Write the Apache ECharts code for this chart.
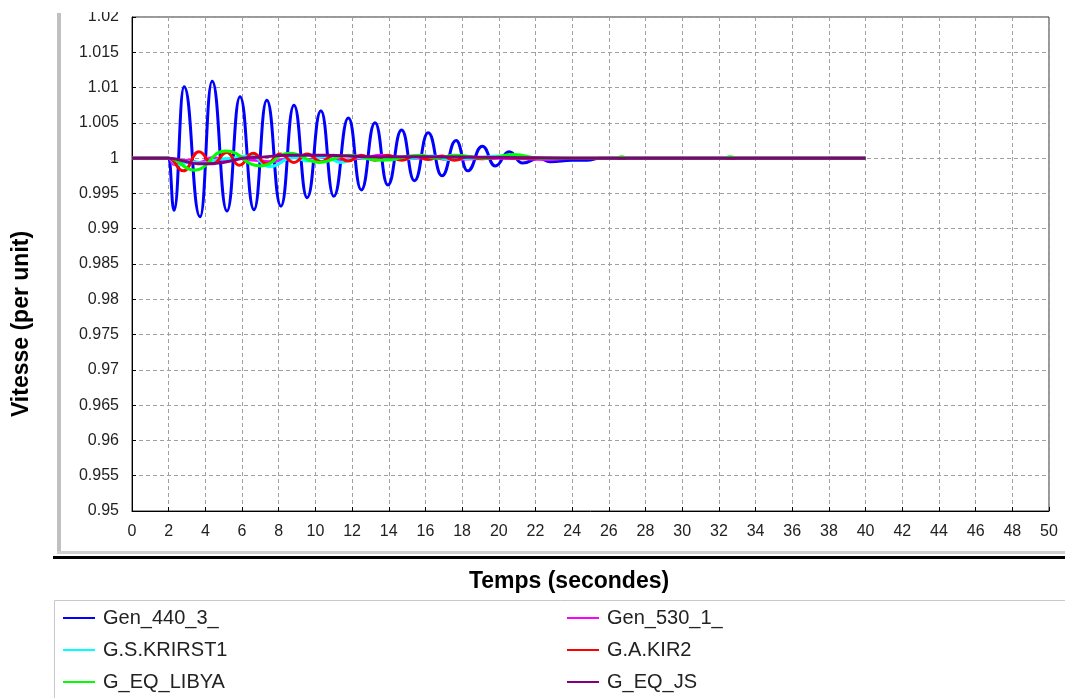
<!DOCTYPE html>
<html>
<head>
<meta charset="utf-8">
<script src="https://cdn.jsdelivr.net/npm/echarts@6/dist/echarts.min.js"></script>
<style>
html,body{margin:0;padding:0;background:#fff;}
#chart{width:1065px;height:698px;}
</style>
</head>
<body>
<div id="chart"></div>
<script>
// Series names (legend order)
var seriesNames = ['Gen_440_3_', 'Gen_530_1_', 'G.S.KRIRST1', 'G.A.KIR2', 'G_EQ_LIBYA', 'G_EQ_JS'];
var seriesColors = ['#0000ff', '#ff00ff', '#00ffff', '#ff0000', '#00ff00', '#800080'];

// [time (s), speed (pu)]: peaks / troughs / flat points
var gen440 = [[0,1.0],[2.0,1.0],[2.29,0.9926],[2.84,1.0101],[3.71,0.9917],[4.37,1.0109],[5.18,0.9925],[5.89,1.0087],[6.65,0.9927],[7.35,1.0082],[8.12,0.9932],[8.83,1.0075],[9.55,0.9944],[10.3,1.0067],[11.0,0.9946],[11.8,1.0057],[12.5,0.9955],[13.25,1.005],[13.95,0.9962],[14.7,1.004],[15.4,0.9968],[16.15,1.0036],[16.9,0.9975],[17.67,1.0025],[18.3,0.9982],[19.1,1.0017],[19.8,0.9989],[20.56,1.0009],[21.3,0.9993],[22.2,1.0],[22.8,0.9995],[24.0,0.9997],[24.8,0.9997],[25.5,1.0],[40,1.0]];
var gen530 = [[0,1.0],[2.0,1.0],[2.3,0.9991],[3.0,0.9997],[3.7,0.9994],[4.4,1.0001],[5.2,0.9996],[5.9,1.0],[6.7,0.9997],[7.5,0.9995],[8.9,1.0001],[9.6,0.9998],[10.3,1.0001],[11.5,0.9997],[12.5,1.0],[13.6,1.0004],[14.5,0.9999],[16.4,1.0001],[17.2,0.9998],[20,1.0],[22.8,0.9998],[24,1.0],[40,1.0]];
var gsKrirst1 = [[0,1.0],[2.0,1.0],[2.5,0.999],[3.2,0.9995],[3.9,0.9993],[5.0,0.9999],[6.5,1.0003],[7.5,0.9988],[8.8,1.0001],[9.6,0.9996],[10.5,1.0002],[11.4,0.9994],[12.3,1.0001],[13.3,0.9998],[14.8,0.9999],[16.4,1.0003],[17.3,0.9998],[18.5,1.0],[20.2,1.0003],[21,1.0],[40,1.0]];
var gaKir2 = [[0,1.0],[2.0,1.0],[2.8,0.9982],[3.65,1.0009],[4.4,0.9992],[5.17,1.0008],[5.85,0.999],[6.6,1.0007],[7.35,0.9992],[8.07,1.0006],[8.83,0.9994],[9.55,1.0006],[10.3,0.9995],[11.0,1.0004],[11.8,0.9996],[12.5,1.0004],[13.25,0.9997],[13.95,1.0004],[14.7,0.9997],[15.4,1.0003],[16.15,0.9998],[16.9,1.0003],[17.6,0.9997],[18.3,1.0002],[19.1,0.9999],[20.0,1.0001],[21,1.0],[40,1.0]];
var gEqLibya = [[0,1.0],[2.0,1.0],[3.4,0.9983],[5.1,1.001],[7.0,0.9989],[8.6,1.0007],[10.2,0.9994],[11.8,1.0004],[13.6,0.9997],[15.7,1.0004],[16.6,1.0],[17.6,1.0004],[19.3,1.0],[20.8,1.0005],[22.3,1.0],[26.4,1.0],[26.7,1.0002],[27.0,1.0],[32.3,1.0],[32.6,1.0002],[33.0,1.0],[40,1.0]];
var gEqJs = [[0,1.0],[2.0,1.0],[3.6,0.9992],[4.3,0.9992],[6.6,1.0001],[8.5,1.0004],[10.5,1.0004],[13,1.0002],[16,1.0002],[20,1.0001],[24,1.0],[40,1.0]];

var seriesData = [gen440, gen530, gsKrirst1, gaKir2, gEqLibya, gEqJs];

// Axis ranges
var xMin = 0, xMax = 50, xStep = 2;
var yMin = 0.95, yMax = 1.02, yStep = 0.005;

var xTitle = 'Temps (secondes)';
var yTitle = 'Vitesse (per unit)';

var chart = echarts.init(document.getElementById('chart'), null, {renderer: 'canvas'});

var series = seriesNames.map(function (name, i) {
  return {
    name: name,
    type: 'line',
    data: seriesData[i],
    symbol: 'none',
    smooth: 0.5,
    smoothMonotone: 'x',
    lineStyle: {width: 3, color: seriesColors[i]},
    itemStyle: {color: seriesColors[i]},
    z: 2 + i,
    animation: false
  };
});

var legendText = {fontFamily: 'Liberation Sans', fontSize: 20, color: '#222', lineHeight: 20, padding: [0, 0, 0, 3]};

var option = {
  animation: false,
  color: seriesColors,
  grid: {left: 132, top: 17, right: 16, bottom: 187, show: true, borderColor: '#333', borderWidth: 1, backgroundColor: '#fff'},
  xAxis: {
    type: 'value', min: xMin, max: xMax, interval: xStep,
    axisLine: {show: true, onZero: false, lineStyle: {color: '#000', width: 1}},
    axisTick: {show: true, inside: true, length: 4, lineStyle: {color: '#000'}},
    axisLabel: {fontFamily: 'Liberation Sans', fontSize: 16, color: '#222', margin: 13},
    splitLine: {show: true, lineStyle: {color: '#a0a0a0', type: [4, 3], width: 1}}
  },
  yAxis: {
    type: 'value', min: yMin, max: yMax, interval: yStep,
    axisLine: {show: true, lineStyle: {color: '#000', width: 1}},
    axisTick: {show: true, inside: true, length: 4, lineStyle: {color: '#000'}},
    axisLabel: {fontFamily: 'Liberation Sans', fontSize: 16, color: '#222', margin: 13,
      formatter: function (v) { return String(Math.round(v * 1000) / 1000); }},
    splitLine: {show: true, lineStyle: {color: '#a0a0a0', type: [4, 3], width: 1}}
  },
  legend: [
    {left: 63, top: 608, orient: 'vertical', padding: 0, itemWidth: 32, itemHeight: 2, itemGap: 12, icon: 'rect',
     selectedMode: false, data: [seriesNames[0], seriesNames[2], seriesNames[4]], textStyle: legendText},
    {left: 567, top: 608, orient: 'vertical', padding: 0, itemWidth: 32, itemHeight: 2, itemGap: 12, icon: 'rect',
     selectedMode: false, data: [seriesNames[1], seriesNames[3], seriesNames[5]], textStyle: legendText}
  ],
  graphic: [
    {type: 'rect', shape: {x: 62, y: 0, width: 69, height: 12}, style: {fill: '#fff'}, z: 100, silent: true},
    {type: 'rect', shape: {x: 57, y: 13, width: 4, height: 540}, style: {fill: '#c0c0c0'}, silent: true},
    {type: 'rect', shape: {x: 57, y: 551, width: 1008, height: 3}, style: {fill: '#d0d0d0'}, silent: true},
    {type: 'rect', shape: {x: 53, y: 556, width: 1012, height: 3}, style: {fill: '#000'}, silent: true},
    {type: 'rect', shape: {x: 54.5, y: 600.5, width: 1020, height: 200}, style: {fill: 'none', stroke: '#c8c8c8', lineWidth: 1}, silent: true},
    {type: 'text', x: 569, y: 582, style: {text: xTitle, fontFamily: 'Liberation Sans', fontSize: 23, fontWeight: 'bold', fill: '#000', align: 'center', verticalAlign: 'middle'}, silent: true},
    {type: 'text', x: 22, y: 324, rotation: Math.PI / 2, style: {text: yTitle, fontFamily: 'Liberation Sans', fontSize: 23, fontWeight: 'bold', fill: '#000', align: 'center', verticalAlign: 'middle'}, silent: true}
  ],
  series: series
};
chart.setOption(option);
</script>
</body>
</html>
